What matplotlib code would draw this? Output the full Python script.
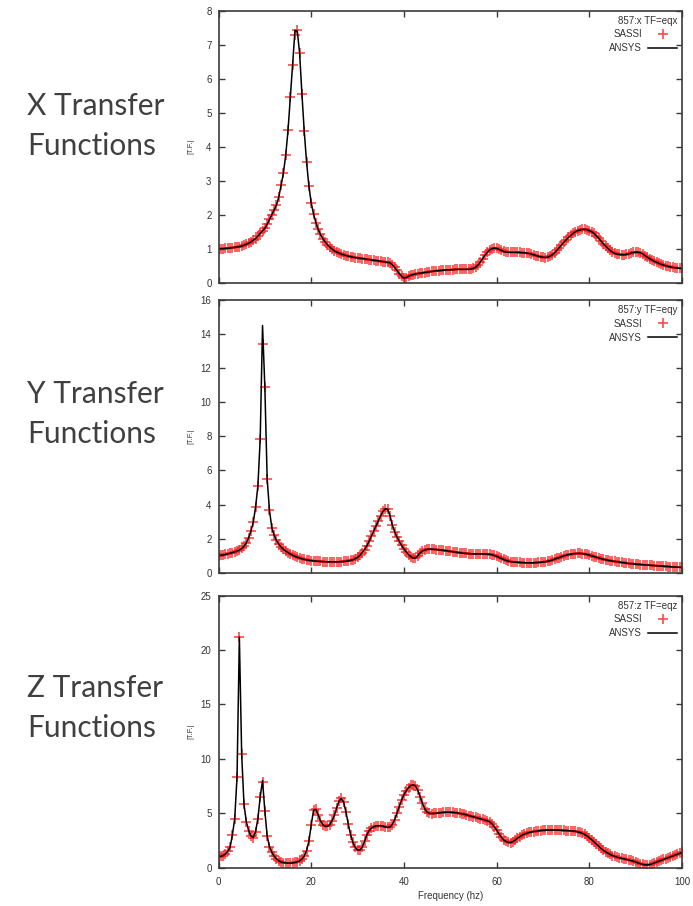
import numpy as np
import matplotlib
matplotlib.use("Agg")
import matplotlib.pyplot as plt

# ---------------- data ----------------
# frequency sampling grid (Hz), 0.5 Hz step
freq = np.arange(0, 100.25, 0.5)

sassi_x = [
    1.00, 1.00, 1.00, 1.01, 1.01, 1.02, 1.03, 1.04, 1.05, 1.06,
    1.08, 1.10, 1.13, 1.16, 1.20, 1.25, 1.30, 1.37, 1.45, 1.53,
    1.60, 1.72, 1.86, 2.00, 2.14, 2.28, 2.52, 2.86, 3.22, 3.75,
    4.48, 5.45, 6.40, 7.30, 7.42, 6.75, 5.55, 4.45, 3.55, 2.85,
    2.35, 2.02, 1.77, 1.57, 1.42, 1.30, 1.20, 1.12, 1.05, 0.99,
    0.94, 0.90, 0.87, 0.84, 0.82, 0.80, 0.78, 0.77, 0.75, 0.74,
    0.73, 0.72, 0.71, 0.70, 0.69, 0.68, 0.67, 0.66, 0.65, 0.64,
    0.63, 0.62, 0.61, 0.60, 0.58, 0.53, 0.45, 0.36, 0.27, 0.19,
    0.14, 0.15, 0.19, 0.22, 0.24, 0.26, 0.27, 0.28, 0.29, 0.30,
    0.31, 0.32, 0.33, 0.34, 0.35, 0.35, 0.36, 0.37, 0.37, 0.38,
    0.38, 0.38, 0.39, 0.39, 0.39, 0.39, 0.39, 0.39, 0.39, 0.40,
    0.42, 0.46, 0.52, 0.61, 0.71, 0.81, 0.89, 0.96, 1.00, 1.02,
    1.01, 0.98, 0.95, 0.92, 0.90, 0.89, 0.89, 0.89, 0.89, 0.89,
    0.89, 0.88, 0.88, 0.87, 0.86, 0.84, 0.82, 0.80, 0.78, 0.76,
    0.75, 0.74, 0.75, 0.78, 0.82, 0.88, 0.95, 1.03, 1.11, 1.19,
    1.26, 1.33, 1.39, 1.45, 1.50, 1.53, 1.55, 1.57, 1.57, 1.56,
    1.53, 1.50, 1.45, 1.38, 1.31, 1.23, 1.15, 1.08, 1.01, 0.95,
    0.90, 0.86, 0.84, 0.83, 0.82, 0.82, 0.83, 0.85, 0.87, 0.89,
    0.90, 0.90, 0.88, 0.85, 0.80, 0.75, 0.71, 0.67, 0.63, 0.60,
    0.57, 0.54, 0.52, 0.50, 0.48, 0.46, 0.45, 0.44, 0.43, 0.42,
    0.42,
]
ansys_x = [
    1.00, 1.00, 1.00, 1.01, 1.01, 1.02, 1.03, 1.04, 1.05, 1.06,
    1.08, 1.10, 1.13, 1.16, 1.20, 1.25, 1.30, 1.37, 1.45, 1.53,
    1.60, 1.72, 1.86, 2.00, 2.14, 2.28, 2.52, 2.86, 3.22, 3.75,
    4.48, 5.45, 6.40, 7.42, 7.40, 6.75, 5.55, 4.45, 3.55, 2.85,
    2.35, 2.02, 1.77, 1.57, 1.42, 1.30, 1.20, 1.12, 1.05, 0.99,
    0.94, 0.90, 0.87, 0.84, 0.82, 0.80, 0.78, 0.77, 0.75, 0.74,
    0.73, 0.72, 0.71, 0.70, 0.69, 0.68, 0.67, 0.66, 0.65, 0.64,
    0.63, 0.62, 0.61, 0.60, 0.58, 0.53, 0.45, 0.36, 0.27, 0.19,
    0.14, 0.15, 0.19, 0.22, 0.24, 0.26, 0.27, 0.28, 0.29, 0.30,
    0.31, 0.32, 0.33, 0.34, 0.35, 0.35, 0.36, 0.37, 0.37, 0.38,
    0.38, 0.38, 0.39, 0.39, 0.39, 0.39, 0.39, 0.39, 0.39, 0.40,
    0.42, 0.46, 0.52, 0.61, 0.71, 0.81, 0.89, 0.96, 1.00, 1.02,
    1.01, 0.98, 0.95, 0.92, 0.90, 0.89, 0.89, 0.89, 0.89, 0.89,
    0.89, 0.88, 0.88, 0.87, 0.86, 0.84, 0.82, 0.80, 0.78, 0.76,
    0.75, 0.74, 0.75, 0.78, 0.82, 0.88, 0.95, 1.03, 1.11, 1.19,
    1.26, 1.33, 1.39, 1.45, 1.50, 1.53, 1.55, 1.57, 1.57, 1.56,
    1.53, 1.50, 1.45, 1.38, 1.31, 1.23, 1.15, 1.08, 1.01, 0.95,
    0.90, 0.86, 0.84, 0.83, 0.82, 0.82, 0.83, 0.85, 0.87, 0.89,
    0.90, 0.90, 0.88, 0.85, 0.80, 0.75, 0.71, 0.67, 0.63, 0.60,
    0.57, 0.54, 0.52, 0.50, 0.48, 0.46, 0.45, 0.44, 0.43, 0.42,
    0.42,
]

sassi_y = [
    1.00, 1.02, 1.04, 1.07, 1.10, 1.14, 1.18, 1.22, 1.27, 1.33,
    1.42, 1.55, 1.75, 2.05, 2.45, 2.95, 3.85, 5.10, 7.85, 13.40,
    10.90, 5.50, 3.65, 2.65, 2.20, 1.90, 1.68, 1.50, 1.38, 1.27,
    1.18, 1.10, 1.02, 0.96, 0.91, 0.86, 0.82, 0.78, 0.75, 0.73,
    0.71, 0.69, 0.68, 0.67, 0.66, 0.65, 0.65, 0.64, 0.64, 0.64,
    0.64, 0.64, 0.64, 0.65, 0.66, 0.67, 0.69, 0.72, 0.76, 0.82,
    0.90, 1.02, 1.18, 1.36, 1.58, 1.85, 2.15, 2.45, 2.75, 3.05,
    3.35, 3.60, 3.76, 3.72, 3.35, 2.80, 2.40, 2.10, 1.85, 1.60,
    1.40, 1.22, 1.06, 0.94, 0.86, 0.86, 1.00, 1.16, 1.27, 1.33,
    1.37, 1.38, 1.38, 1.37, 1.36, 1.34, 1.33, 1.31, 1.29, 1.27,
    1.25, 1.23, 1.21, 1.19, 1.17, 1.15, 1.14, 1.13, 1.12, 1.11,
    1.10, 1.10, 1.10, 1.10, 1.10, 1.09, 1.09, 1.08, 1.05, 1.01,
    0.96, 0.90, 0.84, 0.78, 0.72, 0.68, 0.65, 0.63, 0.62, 0.61,
    0.60, 0.59, 0.59, 0.58, 0.58, 0.58, 0.58, 0.59, 0.60, 0.61,
    0.62, 0.64, 0.67, 0.70, 0.74, 0.79, 0.84, 0.89, 0.94, 0.99,
    1.03, 1.06, 1.09, 1.11, 1.12, 1.13, 1.13, 1.12, 1.10, 1.07,
    1.03, 0.99, 0.95, 0.91, 0.87, 0.83, 0.79, 0.76, 0.73, 0.70,
    0.68, 0.66, 0.64, 0.62, 0.60, 0.58, 0.56, 0.54, 0.53, 0.52,
    0.50, 0.49, 0.48, 0.47, 0.46, 0.45, 0.44, 0.43, 0.42, 0.41,
    0.40, 0.39, 0.38, 0.37, 0.36, 0.35, 0.34, 0.33, 0.32, 0.31,
    0.31,
]
ansys_y = [
    1.00, 1.02, 1.04, 1.07, 1.10, 1.14, 1.18, 1.22, 1.27, 1.33,
    1.42, 1.55, 1.75, 2.05, 2.45, 2.95, 3.85, 5.10, 7.85, 14.50,
    10.90, 5.50, 3.65, 2.65, 2.20, 1.90, 1.68, 1.50, 1.38, 1.27,
    1.18, 1.10, 1.02, 0.96, 0.91, 0.86, 0.82, 0.78, 0.75, 0.73,
    0.71, 0.69, 0.68, 0.67, 0.66, 0.65, 0.65, 0.64, 0.64, 0.64,
    0.64, 0.64, 0.64, 0.65, 0.66, 0.67, 0.69, 0.72, 0.76, 0.82,
    0.90, 1.02, 1.18, 1.36, 1.58, 1.85, 2.15, 2.45, 2.75, 3.05,
    3.35, 3.60, 3.76, 3.72, 3.35, 2.80, 2.40, 2.10, 1.85, 1.60,
    1.40, 1.22, 1.06, 0.94, 0.86, 0.86, 1.00, 1.16, 1.27, 1.33,
    1.37, 1.38, 1.38, 1.37, 1.36, 1.34, 1.33, 1.31, 1.29, 1.27,
    1.25, 1.23, 1.21, 1.19, 1.17, 1.15, 1.14, 1.13, 1.12, 1.11,
    1.10, 1.10, 1.10, 1.10, 1.10, 1.09, 1.09, 1.08, 1.05, 1.01,
    0.96, 0.90, 0.84, 0.78, 0.72, 0.68, 0.65, 0.63, 0.62, 0.61,
    0.60, 0.59, 0.59, 0.58, 0.58, 0.58, 0.58, 0.59, 0.60, 0.61,
    0.62, 0.64, 0.67, 0.70, 0.74, 0.79, 0.84, 0.89, 0.94, 0.99,
    1.03, 1.06, 1.09, 1.11, 1.12, 1.13, 1.13, 1.12, 1.10, 1.07,
    1.03, 0.99, 0.95, 0.91, 0.87, 0.83, 0.79, 0.76, 0.73, 0.70,
    0.68, 0.66, 0.64, 0.62, 0.60, 0.58, 0.56, 0.54, 0.53, 0.52,
    0.50, 0.49, 0.48, 0.47, 0.46, 0.45, 0.44, 0.43, 0.42, 0.41,
    0.40, 0.39, 0.38, 0.37, 0.36, 0.35, 0.34, 0.33, 0.32, 0.31,
    0.31,
]

sassi_z = [
    1.00, 1.03, 1.10, 1.25, 1.50, 1.85, 3.00, 4.50, 8.35, 21.20,
    10.40, 5.80, 4.20, 3.40, 2.90, 2.75, 3.30, 4.50, 6.50, 7.90,
    5.20, 2.90, 1.90, 1.40, 1.05, 0.80, 0.62, 0.50, 0.45, 0.42,
    0.40, 0.40, 0.42, 0.46, 0.52, 0.62, 0.78, 1.05, 1.55, 2.40,
    3.90, 5.25, 5.35, 4.85, 4.30, 3.95, 3.78, 3.78, 3.95, 4.30,
    4.80, 5.50, 6.10, 6.35, 6.00, 5.10, 4.00, 3.00, 2.30, 1.85,
    1.62, 1.60, 1.85, 2.40, 3.00, 3.40, 3.62, 3.75, 3.82, 3.85,
    3.85, 3.80, 3.72, 3.68, 3.72, 3.95, 4.40, 5.00, 5.60, 6.20,
    6.70, 7.05, 7.35, 7.55, 7.60, 7.50, 7.10, 6.50, 5.90, 5.40,
    5.10, 4.98, 4.95, 4.97, 5.00, 5.02, 5.05, 5.07, 5.08, 5.08,
    5.08, 5.07, 5.05, 5.02, 4.98, 4.94, 4.90, 4.84, 4.78, 4.72,
    4.66, 4.60, 4.54, 4.48, 4.42, 4.36, 4.30, 4.20, 4.02, 3.75,
    3.45, 3.10, 2.80, 2.55, 2.40, 2.31, 2.28, 2.38, 2.52, 2.68,
    2.84, 2.97, 3.07, 3.15, 3.22, 3.27, 3.31, 3.34, 3.37, 3.40,
    3.42, 3.44, 3.45, 3.45, 3.45, 3.45, 3.44, 3.43, 3.42, 3.41,
    3.40, 3.39, 3.38, 3.36, 3.33, 3.28, 3.22, 3.14, 3.04, 2.90,
    2.74, 2.56, 2.36, 2.15, 1.95, 1.77, 1.60, 1.45, 1.32, 1.20,
    1.10, 1.02, 0.95, 0.89, 0.84, 0.79, 0.75, 0.70, 0.65, 0.58,
    0.50, 0.42, 0.35, 0.29, 0.25, 0.23, 0.26, 0.33, 0.42, 0.50,
    0.58, 0.66, 0.74, 0.82, 0.90, 0.98, 1.06, 1.14, 1.22, 1.30,
    1.38,
]
ansys_z = [
    1.00, 1.03, 1.10, 1.25, 1.50, 1.85, 3.00, 4.50, 8.35, 21.20,
    10.40, 5.80, 4.20, 3.40, 2.90, 2.75, 3.30, 4.50, 6.50, 8.00,
    5.20, 2.90, 1.90, 1.40, 1.05, 0.80, 0.62, 0.50, 0.45, 0.42,
    0.40, 0.40, 0.42, 0.46, 0.52, 0.62, 0.78, 1.05, 1.55, 2.40,
    3.90, 5.25, 5.35, 4.85, 4.30, 3.95, 3.78, 3.78, 3.95, 4.30,
    4.80, 5.50, 6.10, 6.35, 6.00, 5.10, 4.00, 3.00, 2.30, 1.85,
    1.62, 1.60, 1.85, 2.40, 3.00, 3.40, 3.62, 3.75, 3.82, 3.85,
    3.85, 3.80, 3.72, 3.68, 3.72, 3.95, 4.40, 5.00, 5.60, 6.20,
    6.70, 7.05, 7.35, 7.55, 7.60, 7.50, 7.10, 6.50, 5.90, 5.40,
    5.10, 4.98, 4.95, 4.97, 5.00, 5.02, 5.05, 5.07, 5.08, 5.08,
    5.08, 5.07, 5.05, 5.02, 4.98, 4.94, 4.90, 4.84, 4.78, 4.72,
    4.66, 4.60, 4.54, 4.48, 4.42, 4.36, 4.30, 4.20, 4.02, 3.75,
    3.45, 3.10, 2.80, 2.55, 2.40, 2.31, 2.28, 2.38, 2.52, 2.68,
    2.84, 2.97, 3.07, 3.15, 3.22, 3.27, 3.31, 3.34, 3.37, 3.40,
    3.42, 3.44, 3.45, 3.45, 3.45, 3.45, 3.44, 3.43, 3.42, 3.41,
    3.40, 3.39, 3.38, 3.36, 3.33, 3.28, 3.22, 3.14, 3.04, 2.90,
    2.74, 2.56, 2.36, 2.15, 1.95, 1.77, 1.60, 1.45, 1.32, 1.20,
    1.10, 1.02, 0.95, 0.89, 0.84, 0.79, 0.75, 0.70, 0.65, 0.58,
    0.50, 0.42, 0.35, 0.29, 0.25, 0.23, 0.26, 0.33, 0.42, 0.50,
    0.58, 0.66, 0.74, 0.82, 0.90, 0.98, 1.06, 1.14, 1.22, 1.30,
    1.38,
]

panel_titles = ["857:x TF=eqx", "857:y TF=eqy", "857:z TF=eqz"]
side_labels = [("X Transfer", "Functions"), ("Y Transfer", "Functions"),
               ("Z Transfer", "Functions")]
y_limits = [8, 16, 25]
y_steps = [1, 2, 5]
x_ticks = [0, 20, 40, 60, 80, 100]
series = [(sassi_x, ansys_x), (sassi_y, ansys_y), (sassi_z, ansys_z)]

# ---------------- figure ----------------
W, H = 693, 906
fig = plt.figure(figsize=(W / 100, H / 100), dpi=100)
plt.rcParams['font.family'] = ['Liberation Sans', 'DejaVu Sans']

left_px, right_px = 218.5, 682.0
panels_px = [(10.7, 282.7), (300.0, 572.7), (595.7, 867.5)]
side_baselines = [(115, 155), (403, 443), (697, 737)]

spine_col = '#3a3a3a'
text_col = '#333333'
fs = 7

for i, (top, bot) in enumerate(panels_px):
    ax = fig.add_axes([left_px / W, 1 - bot / H, (right_px - left_px) / W,
                       (bot - top) / H])
    s_vals, a_vals = series[i]
    ax.plot(freq, s_vals, linestyle='none', marker='+', markersize=7,
            markeredgewidth=1.2, color='#ff1a1a', alpha=0.8, label='SASSI')
    ax.plot(freq, a_vals, color='black', linewidth=1.1, label='ANSYS')

    ax.set_xlim(0, 100)
    ax.set_ylim(0, y_limits[i])
    ax.set_xticks(x_ticks)
    ax.set_yticks(np.arange(0, y_limits[i] + 0.01, y_steps[i]))
    ax.tick_params(direction='in', length=4, width=1.0, top=True, right=True,
                   color=spine_col, labelcolor=text_col, labelsize=fs, pad=5)
    ax.tick_params(axis='x', pad=7)
    for sp in ax.spines.values():
        sp.set_color(spine_col)
        sp.set_linewidth(1.2)
    if i < 2:
        ax.tick_params(labelbottom=False)
    else:
        ax.set_xlabel('Frequency (hz)', fontsize=fs, color=text_col, labelpad=3)

    ax.set_ylabel('|T.F.|', fontsize=5.5, color=text_col)
    ax.yaxis.set_label_coords(-0.052, 0.5)

    leg = ax.legend(loc='upper right', title=panel_titles[i], frameon=False,
                    fontsize=fs, title_fontsize=fs, markerfirst=False,
                    handlelength=3.0, handletextpad=0.6, labelspacing=0.4,
                    borderpad=0.25, borderaxespad=0.25, alignment='right')
    for t in leg.get_texts():
        t.set_color(text_col)
    leg.get_title().set_color(text_col)

    # side labels
    b1, b2 = side_baselines[i]
    for txt, b in zip(side_labels[i], (b1, b2)):
        fig.text(27 / W, 1 - b / H, txt, fontsize=21.5, family=['Lato', 'DejaVu Sans'],
                 color='#404040', ha='left', va='baseline')

fig.savefig('out.png', dpi=100)
